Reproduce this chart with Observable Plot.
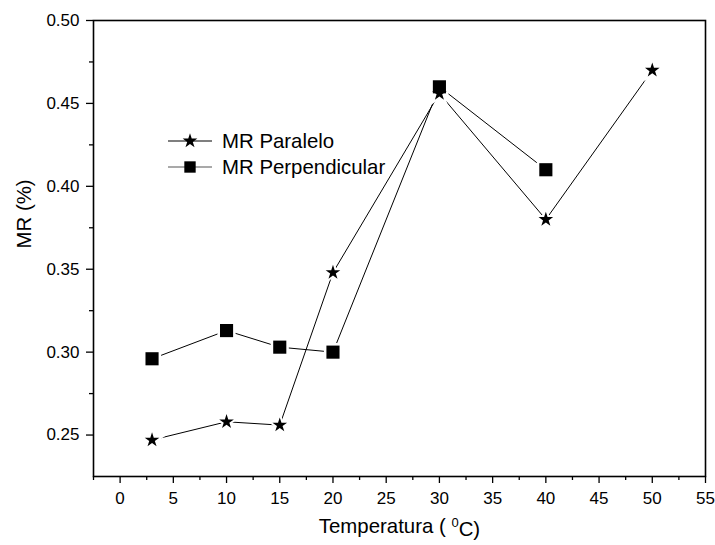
<!DOCTYPE html>
<html>
<head>
<meta charset="utf-8">
<script src="https://cdn.jsdelivr.net/npm/d3@7"></script>
<script src="https://cdn.jsdelivr.net/npm/@observablehq/plot@0.6"></script>
<style>
  html, body { margin: 0; padding: 0; background: white; }
  #wrap { position: relative; width: 715px; height: 545px; font-family: Arial, "Liberation Sans", sans-serif; }
  #legend { position: absolute; left: 166px; top: 128px; font-size: 20.4px; line-height: 26px; color: black; }
  #legend .row { display: flex; align-items: center; height: 26px; }
  #legend svg { margin-right: 8px; }
</style>
</head>
<body>
<div id="wrap"><div id="legend"></div></div>
<script>
// ---- data ----
const tempParalelo = [3, 10, 15, 20, 30, 40, 50];
const mrParalelo = [0.247, 0.258, 0.256, 0.348, 0.456, 0.380, 0.470];
const tempPerpendicular = [3, 10, 15, 20, 30, 40];
const mrPerpendicular = [0.296, 0.313, 0.303, 0.300, 0.460, 0.410];
const seriesNames = ["MR Paralelo", "MR Perpendicular"];
const xTicks = [0, 5, 10, 15, 20, 25, 30, 35, 40, 45, 50, 55];
const xMinorTicks = [-2.5, 2.5, 7.5, 12.5, 17.5, 22.5, 27.5, 32.5, 37.5, 42.5, 47.5, 52.5];
const yTicks = [0.25, 0.30, 0.35, 0.40, 0.45, 0.50];
const yMinorTicks = [0.275, 0.325, 0.375, 0.425, 0.475];
const xLabel = "Temperatura ( 0C)";
const yLabel = "MR (%)";

const paralelo = tempParalelo.map((t, i) => ({t, v: mrParalelo[i]}));
const perpendicular = tempPerpendicular.map((t, i) => ({t, v: mrPerpendicular[i]}));

const chart = Plot.plot({
  width: 715,
  height: 545,
  marginLeft: 93,
  marginRight: 10,
  marginTop: 20,
  marginBottom: 69,
  x: {domain: [-2.5, 55]},
  y: {domain: [0.225, 0.50]},
  style: {fontFamily: "Arial, 'Liberation Sans', sans-serif", fontSize: "17px", color: "black", background: "white"},
  marks: [
    Plot.axisX({ticks: xTicks, tickSize: 7, tickPadding: 8, tickFormat: d => String(d), label: null, fontSize: 17, strokeWidth: 1.3}),
    Plot.axisX({ticks: xMinorTicks, tickSize: 4, tickFormat: () => "", label: null, strokeWidth: 1.3}),
    Plot.axisY({ticks: yTicks, tickSize: 7, tickPadding: 7, tickFormat: d => d.toFixed(2), label: null, fontSize: 17, strokeWidth: 1.3}),
    Plot.axisY({ticks: yMinorTicks, tickSize: 4, tickFormat: () => "", label: null, strokeWidth: 1.3}),
    Plot.frame({stroke: "black", strokeWidth: 1.6}),
    Plot.line(paralelo, {x: "t", y: "v", stroke: "black", strokeWidth: 1}),
    Plot.line(perpendicular, {x: "t", y: "v", stroke: "black", strokeWidth: 1}),
    // white halos to make small gaps around markers
    Plot.dot(perpendicular, {x: "t", y: "v", symbol: "square", r: 7.4, fill: "white", stroke: "white", strokeWidth: 5}),
    Plot.dot(paralelo, {x: "t", y: "v", symbol: "star", r: 4.6, fill: "white", stroke: "white", strokeWidth: 4}),
    Plot.dot(perpendicular, {x: "t", y: "v", symbol: "square", r: 7.4, fill: "black", stroke: "none"}),
    Plot.dot(paralelo, {x: "t", y: "v", symbol: "star", r: 4.6, fill: "black", stroke: "none"}),
    Plot.text([yLabel], {frameAnchor: "left", dx: -69, rotate: -90, fontSize: 20.4, fill: "black"}),
    Plot.text([xLabel], {frameAnchor: "bottom", dy: 56, fontSize: 20.4, fill: "black"})
  ]
});

document.getElementById("wrap").prepend(chart);

// superscript the "0" in the x label
d3.select(chart).selectAll("text").each(function () {
  const el = d3.select(this);
  if (el.text() === xLabel) {
    el.text(null);
    el.append("tspan").text("Temperatura ( ");
    el.append("tspan").attr("dy", "-0.45em").attr("font-size", "13px").text("0");
    el.append("tspan").attr("dy", "0.45em").text("C)");
  }
});

// legend
const legend = d3.select("#legend");
const symbols = [d3.symbolStar, d3.symbolSquare];
const sizes = [Math.PI * 4.6 * 4.6, Math.PI * 7.4 * 7.4 * 0.75];
const lineColors = ["black", "#555"];
seriesNames.forEach((name, i) => {
  const row = legend.append("div").attr("class", "row");
  const s = row.append("svg").attr("width", 48).attr("height", 20);
  s.append("line").attr("x1", 2).attr("x2", 46).attr("y1", 10).attr("y2", 10)
    .attr("stroke", lineColors[i]).attr("stroke-width", 1.2);
  s.append("path").attr("transform", "translate(24,10)")
    .attr("d", d3.symbol(symbols[i], sizes[i])()).attr("fill", "black");
  row.append("span").text(name);
});
</script>
</body>
</html>
